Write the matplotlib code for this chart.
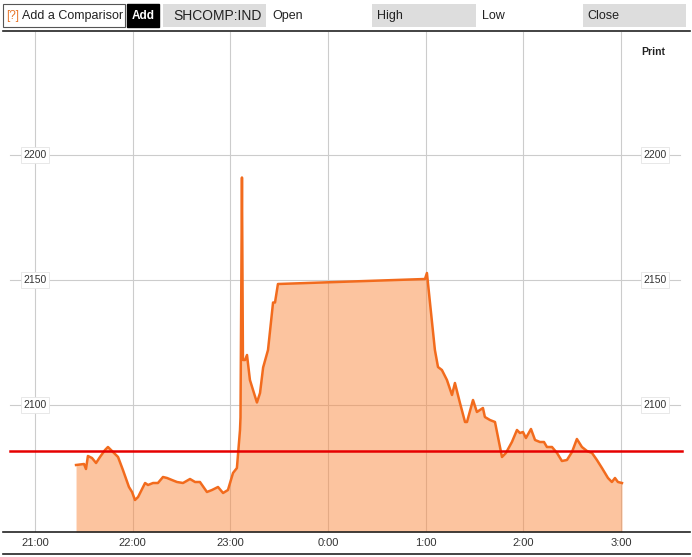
import matplotlib
matplotlib.use('Agg')
import matplotlib.pyplot as plt
from matplotlib.patches import Rectangle
import matplotlib.transforms as mtransforms

plt.rcParams['font.family'] = ['Liberation Sans', 'DejaVu Sans']

# minutes after 21:00 and index level (SHCOMP:IND)
minutes = [25.2, 30.1, 31.3, 32.5, 35.0, 37.5, 39.9, 43.0, 44.8, 47.9, 51.0, 54.0, 57.7, 59.6,
           61.4, 63.3, 67.6, 69.4, 72.5, 75.5, 78.6, 81.1, 84.1, 87.2, 90.9, 95.2, 98.3, 101.3,
           105.6, 108.7, 112.4, 115.5, 118.5, 121.6, 124.0, 125.9, 126.2, 127.1, 127.7, 129.0,
           130.2, 132.0, 133.9, 136.3, 138.2, 140.1, 143.1, 146.2, 147.4, 149.2, 239.5, 240.7,
           242.6, 245.6, 247.5, 249.9, 253.0, 256.1, 257.9, 261.0, 264.1, 265.3, 269.0, 271.4,
           275.1, 276.3, 279.4, 282.5, 286.8, 289.2, 292.9, 296.0, 297.8, 299.7, 301.5, 304.6,
           307.1, 310.1, 312.6, 314.4, 317.5, 320.6, 323.6, 326.7, 329.8, 332.8, 335.9, 339.0,
           342.1, 345.1, 348.2, 351.9, 354.3, 356.2, 358.0, 360.5]
values = [2076.0, 2076.4, 2074.4, 2079.6, 2078.8, 2076.8, 2079.2, 2082.0, 2083.2, 2081.2, 2079.2,
          2074.0, 2067.2, 2065.2, 2062.0, 2063.2, 2068.8, 2068.0, 2068.8, 2068.8, 2071.2, 2070.8,
          2070.0, 2069.2, 2068.8, 2070.4, 2069.2, 2069.2, 2065.2, 2066.0, 2067.2, 2064.8, 2066.0,
          2072.8, 2074.8, 2090.0, 2095.0, 2191.0, 2118.0, 2118.0, 2120.0, 2110.0, 2106.0, 2101.0,
          2104.8, 2115.0, 2122.0, 2141.0, 2141.0, 2148.4, 2150.4, 2152.8, 2140.8, 2122.0, 2115.2,
          2114.0, 2110.0, 2104.0, 2108.8, 2100.8, 2093.2, 2093.2, 2102.0, 2097.2, 2098.8, 2095.2,
          2094.0, 2093.2, 2079.2, 2080.8, 2085.2, 2090.0, 2088.8, 2089.2, 2086.8, 2090.4, 2086.0,
          2085.2, 2085.2, 2083.2, 2083.2, 2080.8, 2077.6, 2078.0, 2081.2, 2086.4, 2083.2, 2081.6,
          2080.8, 2078.0, 2074.8, 2070.8, 2069.2, 2070.8, 2069.2, 2068.8]
prev_close = 2081.6
tick_minutes = [0, 60, 120, 180, 240, 300, 360]
tick_labels = ['21:00', '22:00', '23:00', '0:00', '1:00', '2:00', '3:00']
y_ticks = [2100, 2150, 2200]

W, H = 692, 557
fig = plt.figure(figsize=(W / 100, H / 100), dpi=100)
ax = fig.add_axes([0, 1 - 532 / H, 1, 500 / H])
ax.set_xlim(-21.5, 403.5)
ax.set_ylim(2049.2, 2249.2)
for s in ax.spines.values():
    s.set_visible(False)
ax.set_yticks([])

ax.set_xticks(tick_minutes)
ax.set_xticklabels(tick_labels, fontsize=8, color='#333333')
ax.tick_params(axis='x', length=0, pad=4)

for t in tick_minutes:
    ax.axvline(t, color='#cccccc', lw=0.8, zorder=1)
for y in y_ticks:
    ax.axhline(y, xmin=10 / W, xmax=680 / W, color='#cccccc', lw=0.8, zorder=1)
    for xf in (35 / W, 655 / W):
        ax.text(xf, y, str(y), transform=mtransforms.blended_transform_factory(ax.transAxes, ax.transData),
                ha='center', va='center', fontsize=7.5, color='#333333', zorder=5,
                bbox=dict(boxstyle='square,pad=0.25', fc='white', ec='#e4e4e4', lw=0.6))

ax.fill_between(minutes, values, 2049.2, color='#fb8a40', alpha=0.5, lw=0, zorder=2)
ax.plot(minutes, values, color='#f26b1d', lw=1.8, zorder=3)
ax.axhline(prev_close, xmin=10 / W, xmax=682 / W, color='#e60000', lw=1.8, zorder=4)

# overlay in pixel coordinates for header and frame lines
ov = fig.add_axes([0, 0, 1, 1], zorder=10)
ov.set_xlim(0, W)
ov.set_ylim(H, 0)
ov.axis('off')
ov.patch.set_alpha(0)

ov.add_patch(Rectangle((3, 4), 122, 23, fc='white', ec='#555555', lw=0.8))
ov.text(6, 16, '[?]', color='#e8762a', fontsize=8.5, va='center')
ov.text(22, 16, 'Add a Comparisor', color='#222222', fontsize=9, va='center')
ov.add_patch(Rectangle((127, 4), 32, 23, fc='black', ec='black'))
ov.text(143, 16, 'Add', color='white', fontsize=8.5, fontweight='bold', ha='center', va='center')
ov.add_patch(Rectangle((163, 4), 103, 23, fc='#dddddd', ec='none'))
ov.text(173, 16, 'SHCOMP:IND', color='#222222', fontsize=10, va='center')
ov.text(272, 16, 'Open', color='#222222', fontsize=9, va='center')
ov.add_patch(Rectangle((372, 4), 104, 23, fc='#dddddd', ec='none'))
ov.text(377, 16, 'High', color='#222222', fontsize=9, va='center')
ov.text(482, 16, 'Low', color='#222222', fontsize=9, va='center')
ov.add_patch(Rectangle((583, 4), 103, 23, fc='#dddddd', ec='none'))
ov.text(587, 16, 'Close', color='#222222', fontsize=9, va='center')
ov.plot([3, 690], [31, 31], color='#222222', lw=1.2)
ov.text(653, 52, 'Print', color='#222222', fontsize=7.5, fontweight='bold', ha='center', va='center')
ov.plot([3, 690], [531.5, 531.5], color='#222222', lw=1.2)
ov.plot([3, 690], [554, 554], color='#222222', lw=1.2)

fig.savefig('out.png', dpi=100)
